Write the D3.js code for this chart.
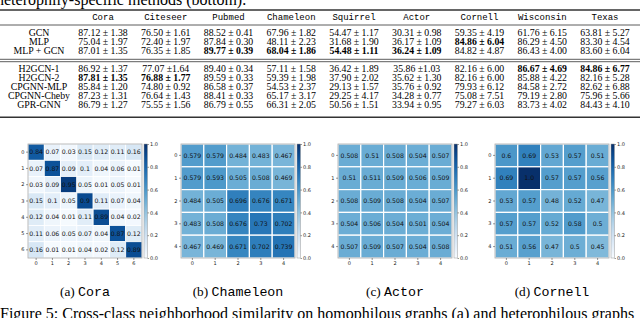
<!DOCTYPE html>
<html>
<head>
<meta charset="utf-8">
<script src="https://cdn.jsdelivr.net/npm/d3@7"></script>
<style>
  body { margin: 0; background: #fff; }
  svg { display: block; }
  .serif { font-family: "Liberation Serif", "DejaVu Serif", serif; }
  .mono { font-family: "Liberation Mono", "DejaVu Sans Mono", monospace; }
  .sans { font-family: "DejaVu Sans", sans-serif; }
</style>
</head>
<body>
<div id="fig"></div>
<script>
// table data
var datasets = ["Cora", "Citeseer", "Pubmed", "Chameleon", "Squirrel", "Actor", "Cornell", "Wisconsin", "Texas"];
var methods = ["GCN", "MLP", "MLP + GCN", "H2GCN-1", "H2GCN-2", "CPGNN-MLP", "CPGNN-Cheby", "GPR-GNN"];
var means = [
  [87.12, 76.50, 88.52, 67.96, 54.47, 30.31, 59.35, 61.76, 63.81],
  [75.04, 72.40, 87.84, 48.11, 31.68, 36.17, 84.86, 86.29, 83.30],
  [87.01, 76.35, 89.77, 68.04, 54.48, 36.24, 84.82, 86.43, 83.60],
  [86.92, 77.07, 89.40, 57.11, 36.42, 35.86, 82.16, 86.67, 84.86],
  [87.81, 76.88, 89.59, 59.39, 37.90, 35.62, 82.16, 85.88, 82.16],
  [85.84, 74.80, 86.58, 54.53, 29.13, 35.76, 79.93, 84.58, 82.62],
  [87.23, 76.64, 88.41, 65.17, 29.25, 34.28, 75.08, 79.19, 75.96],
  [86.79, 75.55, 86.79, 66.31, 50.56, 33.94, 79.27, 83.73, 84.43]
];
var stds = [
  [1.38, 1.61, 0.41, 1.82, 1.17, 0.98, 4.19, 6.15, 5.27],
  [1.97, 1.97, 0.30, 2.23, 1.90, 1.09, 6.04, 4.50, 4.54],
  [1.35, 1.85, 0.39, 1.86, 1.11, 1.09, 4.87, 4.00, 6.04],
  [1.37, 1.64, 0.34, 1.58, 1.89, 1.03, 6.00, 4.69, 6.77],
  [1.35, 1.77, 0.33, 1.98, 2.02, 1.30, 6.00, 4.22, 5.28],
  [1.20, 0.92, 0.37, 2.37, 1.57, 0.92, 6.12, 2.72, 6.88],
  [1.31, 1.43, 0.33, 3.17, 4.17, 0.77, 7.51, 2.80, 5.66],
  [1.27, 1.56, 0.55, 2.05, 1.51, 0.95, 6.03, 4.02, 4.10]
];
var best = [
  [0,0,0,0,0,0,0,0,0],
  [0,0,0,0,0,0,1,0,0],
  [0,0,1,1,1,1,0,0,0],
  [0,0,0,0,0,0,0,1,1],
  [1,1,0,0,0,0,0,0,0],
  [0,0,0,0,0,0,0,0,0],
  [0,0,0,0,0,0,0,0,0],
  [0,0,0,0,0,0,0,0,0]
];
// cells written without a space after the ± sign
var tight = [[3,1],[3,5]];

// heatmap data
var panelNames = ["Cora", "Chameleon", "Actor", "Cornell"];
var panelTags = ["(a)", "(b)", "(c)", "(d)"];
var coraSim = [
  [0.84, 0.07, 0.03, 0.15, 0.12, 0.11, 0.16],
  [0.07, 0.87, 0.09, 0.1, 0.04, 0.06, 0.01],
  [0.03, 0.09, 0.95, 0.05, 0.01, 0.05, 0.01],
  [0.15, 0.1, 0.05, 0.9, 0.11, 0.07, 0.04],
  [0.12, 0.04, 0.01, 0.11, 0.89, 0.04, 0.02],
  [0.11, 0.06, 0.05, 0.07, 0.04, 0.87, 0.12],
  [0.16, 0.01, 0.01, 0.04, 0.02, 0.12, 0.89]
];
var chameleonSim = [
  [0.579, 0.579, 0.484, 0.483, 0.467],
  [0.579, 0.593, 0.505, 0.508, 0.469],
  [0.484, 0.505, 0.696, 0.676, 0.671],
  [0.483, 0.508, 0.676, 0.73, 0.702],
  [0.467, 0.469, 0.671, 0.702, 0.739]
];
var actorSim = [
  [0.508, 0.51, 0.508, 0.504, 0.507],
  [0.51, 0.511, 0.509, 0.506, 0.509],
  [0.508, 0.509, 0.508, 0.504, 0.507],
  [0.504, 0.506, 0.504, 0.501, 0.504],
  [0.507, 0.509, 0.507, 0.504, 0.508]
];
var cornellSim = [
  [0.6, 0.69, 0.53, 0.57, 0.51],
  [0.69, 1.0, 0.57, 0.57, 0.56],
  [0.53, 0.57, 0.48, 0.52, 0.47],
  [0.57, 0.57, 0.52, 0.58, 0.5],
  [0.51, 0.56, 0.47, 0.5, 0.45]
];
var cbTicks = [0, 0.2, 0.4, 0.6, 0.8, 1.0];

var svgWidth = 640, svgHeight = 318;
var svg = d3.select("#fig").append("svg")
    .attr("width", svgWidth)
    .attr("height", svgHeight);

// ---- table ----
svg.append("text")
    .attr("class", "serif")
    .attr("x", -4).attr("y", 5)
    .attr("font-size", 16)
    .text("heterophily-specific methods (bottom).");

var colX = d3.scalePoint().domain(datasets).range([103, 605]);
var rowY = d3.scaleOrdinal().domain(methods)
    .range([32.7, 41.8, 50.9, 68.5, 77.6, 86.7, 95.8, 104.9]);

var rules = svg.append("g").attr("stroke", "#333");
rules.append("line").attr("x1", 0).attr("x2", 640).attr("y1", 10).attr("y2", 10).attr("stroke-width", 1.4);
rules.append("line").attr("x1", 0).attr("x2", 640).attr("y1", 25).attr("y2", 25).attr("stroke-width", 0.8);
rules.append("line").attr("x1", 0).attr("x2", 640).attr("y1", 59.3).attr("y2", 59.3).attr("stroke-width", 0.8);
rules.append("line").attr("x1", 0).attr("x2", 640).attr("y1", 61.7).attr("y2", 61.7).attr("stroke-width", 0.8);
rules.append("line").attr("x1", 0).attr("x2", 640).attr("y1", 117.3).attr("y2", 117.3).attr("stroke-width", 1.4);

svg.append("g").selectAll("text")
    .data(datasets)
    .enter().append("text")
    .attr("class", "mono")
    .attr("font-size", 9)
    .attr("text-anchor", "middle")
    .attr("x", d => colX(d))
    .attr("y", 20)
    .text(d => d);

svg.append("g").selectAll("text")
    .data(methods)
    .enter().append("text")
    .attr("class", "serif")
    .attr("font-size", 9.8)
    .attr("text-anchor", "middle")
    .attr("x", 39)
    .attr("y", d => rowY(d) + 3.3)
    .text(d => d);

var cells = [];
methods.forEach(function(m, i) {
  datasets.forEach(function(ds, j) {
    var sep = tight.some(t => t[0] === i && t[1] === j) ? " \u00b1" : " \u00b1 ";
    cells.push({m: m, ds: ds, txt: means[i][j].toFixed(2) + sep + stds[i][j].toFixed(2), bold: best[i][j]});
  });
});

svg.append("g").selectAll("text")
    .data(cells)
    .enter().append("text")
    .attr("class", "serif")
    .attr("font-size", 9.8)
    .attr("font-weight", d => d.bold ? "bold" : "normal")
    .attr("text-anchor", "middle")
    .attr("x", d => colX(d.ds))
    .attr("y", d => rowY(d.m) + 3.3)
    .text(d => d.txt);

// ---- heatmaps ----
var sims = [coraSim, chameleonSim, actorSim, cornellSim];
var panelX = d3.scaleOrdinal().domain(panelNames).range([85, 238, 395, 552]);
var color = d3.scaleSequential(d3.interpolateBlues).domain([0, 1]);
var heatTop = 144, size = 114;

panelNames.forEach(function(name, p) {
  var mat = sims[p];
  var n = mat.length;
  var idx = d3.range(n);
  var left = panelX(name) - size / 2;
  var g = svg.append("g").attr("transform", `translate(${left}, ${heatTop})`);

  var x = d3.scaleBand().domain(idx).range([0, size]);
  var y = d3.scaleBand().domain(idx).range([0, size]);

  var flat = [];
  mat.forEach((row, r) => row.forEach((v, c) => flat.push({r: r, c: c, v: v})));

  g.selectAll("rect.cell")
      .data(flat)
      .enter().append("rect")
      .attr("class", "cell")
      .attr("x", d => x(d.c))
      .attr("y", d => y(d.r))
      .attr("width", x.bandwidth())
      .attr("height", y.bandwidth())
      .attr("fill", d => color(d.v))
      .attr("stroke", "#fff")
      .attr("stroke-width", n > 5 ? 0.8 : 1.2);

  g.selectAll("text.val")
      .data(flat)
      .enter().append("text")
      .attr("class", "sans")
      .attr("font-size", 6.2)
      .attr("text-anchor", "middle")
      .attr("x", d => x(d.c) + x.bandwidth() / 2)
      .attr("y", d => y(d.r) + y.bandwidth() / 2 + 2.2)
      .attr("fill", "#111")
      .text(d => d.v === 1 ? "1.0" : String(d.v));

  g.append("rect")
      .attr("width", size).attr("height", size)
      .attr("fill", "none").attr("stroke", "#aaa").attr("stroke-width", 0.8);

  var leftAxis = d3.axisLeft(y).tickSize(2).tickPadding(1.5);
  var bottomAxis = d3.axisBottom(x).tickSize(2).tickPadding(1.5);
  var ay = g.append("g").call(leftAxis);
  var ax = g.append("g").attr("transform", `translate(0, ${size})`).call(bottomAxis);
  [ax, ay].forEach(function(a) {
    a.select(".domain").remove();
    a.selectAll("line").attr("stroke", "#333").attr("stroke-width", 0.5);
    a.selectAll("text").attr("class", "sans").attr("font-size", 5).attr("fill", "#222");
  });

  // colorbar
  var cbX = size + 2, cbW = 3.5;
  var gradId = "grad" + p;
  var grad = svg.append("defs").append("linearGradient")
      .attr("id", gradId).attr("x1", 0).attr("x2", 0).attr("y1", 1).attr("y2", 0);
  d3.range(0, 1.01, 0.1).forEach(function(t) {
    grad.append("stop").attr("offset", t).attr("stop-color", color(t));
  });
  g.append("rect")
      .attr("x", cbX).attr("y", 0)
      .attr("width", cbW).attr("height", size)
      .attr("fill", `url(#${gradId})`)
      .attr("stroke", "#999").attr("stroke-width", 0.5);
  var cbScale = d3.scaleLinear().domain([0, 1]).range([size, 0]);
  var cbAxis = d3.axisRight(cbScale).tickValues(cbTicks).tickFormat(d3.format(".1f")).tickSize(1.5).tickPadding(1);
  var ac = g.append("g").attr("transform", `translate(${cbX + cbW}, 0)`).call(cbAxis);
  ac.select(".domain").remove();
  ac.selectAll("line").attr("stroke", "#333").attr("stroke-width", 0.5);
  ac.selectAll("text").attr("class", "sans").attr("font-size", 5).attr("fill", "#222");

  // sub caption
  var cap = svg.append("text")
      .attr("x", panelX(name))
      .attr("y", 296)
      .attr("text-anchor", "middle")
      .attr("font-size", 13.3);
  cap.append("tspan").attr("class", "serif").text(panelTags[p] + " ");
  cap.append("tspan").attr("class", "mono").text(name);
});

svg.append("text")
    .attr("class", "serif")
    .attr("x", 0).attr("y", 319)
    .attr("font-size", 16)
    .text("Figure 5: Cross-class neighborhood similarity on homophilous graphs (a) and heterophilous graphs");
</script>
</body>
</html>
